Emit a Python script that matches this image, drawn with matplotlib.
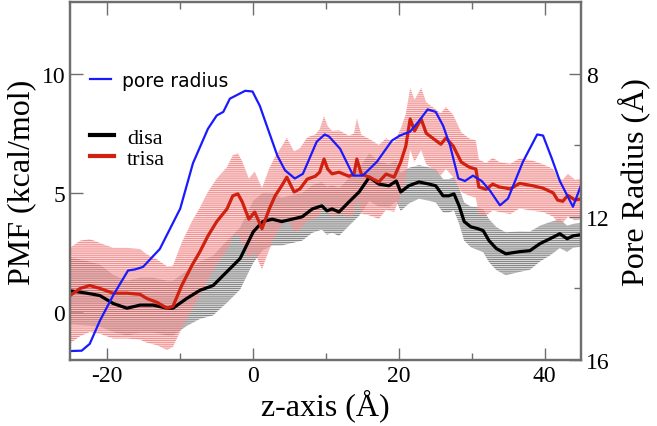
import matplotlib
matplotlib.use("Agg")
import matplotlib.pyplot as plt
from matplotlib import font_manager as fm
import numpy as np

# ---------------- data ----------------
pore_z = [-25, -23.4, -22.3, -20.9, -19.1, -17.05, -16.1, -15.0, -12.7, -9.9, -8.15,
          -6.1, -4.9, -4.0, -3.1, -1.0, 0, 1.0, 2.1, 3.4, 4.45, 5.8, 6.9, 8.8, 9.9,
          10.5, 12.0, 13.8, 15.1, 17.05, 19.1, 20.2, 21.6, 22.7, 24.0, 25.1, 26.1,
          27.05, 28.2, 29.1, 30.2, 31.4, 32.5, 33.9, 35.0, 37.05, 39.0, 39.8, 41.0,
          42.1, 43.9, 45.0]
pore_r = [15.75, 15.74, 15.55, 14.9, 14.2, 13.5, 13.47, 13.4, 12.9, 11.77, 10.5,
          9.54, 9.17, 9.07, 8.70, 8.48, 8.5, 8.9, 9.54, 10.29, 10.7, 10.93, 10.8, 9.9, 9.7,
          9.76, 10.1, 10.85, 10.85, 10.46, 9.87, 9.73, 9.62, 9.35, 9.0, 9.07, 9.45,
          10.0, 10.93, 11.0, 10.85, 11.0, 11.26, 11.68, 11.49, 10.46, 9.7, 9.73, 10.37,
          11.0, 11.72, 11.12]

disa_z = [-25, -22.7, -20.9, -19.1, -17.2, -15.4, -13.6, -11.7, -10.9, -9.0, -7.2,
          -5.4, -3.5, -1.7, 0.1, 1.4, 2.7, 4.0, 5.4, 6.8, 8.2, 9.5, 10.2, 10.9, 11.85,
          13.2, 14.6, 16.0, 17.3, 18.7, 19.7, 20.3, 21.4, 22.8, 24.2, 25.1, 26.1, 26.9,
          27.6, 28.3, 29.0, 29.9, 30.9, 31.6, 32.4, 33.4, 34.7, 36.6, 38.0, 39.4, 40.75,
          42.1, 43.1, 43.9, 45.0]
disa_pmf = [0.9, 0.8, 0.7, 0.37, 0.17, 0.3, 0.3, 0.17, 0.17, 0.58, 0.92,
            1.12, 1.7, 2.25, 3.37, 3.8, 3.9, 3.8, 3.9, 4.0, 4.33, 4.46, 4.25, 4.33, 4.2,
            4.62, 5.04, 5.66, 5.37, 5.3, 5.5, 5.04, 5.3, 5.46, 5.37, 5.3, 4.88, 4.88,
            4.96, 4.46, 3.8, 3.58, 3.5, 3.42, 3.0, 2.67, 2.45, 2.54, 2.58, 2.88, 3.08,
            3.29, 3.08, 3.2, 3.25]
disa_err = [1.4, 1.35, 1.3, 1.2, 1.15, 1.15, 1.15, 1.15, 1.15,
            1.15, 1.2, 1.25, 1.3, 1.3,
            1.3, 1.2, 1.1, 1.0, 1.0, 1.0, 1.0, 1.0, 1.0, 1.0,
            1.0, 1.0, 1.0, 1.0, 0.95, 0.9, 0.85, 0.8, 0.75, 0.7,
            0.7, 0.7, 0.7, 0.7, 0.7, 0.75, 0.8, 0.85, 0.9, 0.9, 0.9, 0.9, 0.9,
            0.85, 0.8, 0.75, 0.7, 0.6, 0.55, 0.5, 0.5]

trisa_z = [-25, -23.6, -22.3, -20.9, -19.1, -17.2, -15.4, -14.5, -13.1, -11.7, -10.9,
           -9.7, -8.3, -7.2, -6.1, -4.9, -3.5, -2.7, -2.0, -1.4, -0.5, 0.3, 1.3, 2.3,
           3.1, 4.0, 4.7, 5.7, 6.5, 7.5, 8.6, 9.2, 9.8, 10.3, 10.9, 11.85, 13.2, 13.9,
           14.3, 14.9, 16.0, 17.3, 18.3, 19.4, 20.3, 21.0, 21.6, 22.2, 23.1, 23.8, 25.1,
           25.8, 26.5, 27.5, 28.6, 29.7, 30.6, 31.0, 32.0, 32.9, 33.8, 35.3, 36.6, 38.4,
           39.8, 41.2, 41.8, 42.5, 43.2, 44.2, 45.0]
trisa_pmf = [0.7, 1.0, 1.12, 1.0, 0.8, 0.8, 0.75, 0.58, 0.42, 0.17, 0.25,
             1.12, 1.96, 2.54, 3.2, 3.8, 4.33, 4.88, 4.96, 4.62, 3.9, 4.2, 3.5, 4.33,
             4.88, 5.3, 5.66, 5.04, 5.17, 5.58, 5.7, 5.87, 6.42, 6.0, 5.8, 5.87, 5.7, 5.79,
             6.42, 5.79, 5.66, 5.46, 5.79, 5.66, 6.29, 6.96, 8.1, 7.6, 8.1, 7.5, 7.2,
             7.04, 7.3, 6.96, 6.29, 6.08, 6.0, 5.25, 5.15, 5.37, 5.25, 5.17, 5.4, 5.3,
             5.2, 5.0, 4.7, 4.65, 4.9, 4.7, 4.75]
trisa_err = [2.0, 2.0, 1.95, 1.9, 1.9, 1.9, 1.9, 1.85, 1.8, 1.75, 1.7,
             1.8, 1.85, 1.85, 1.85, 1.8, 1.75, 1.7, 1.7, 1.7, 1.7,
             1.7, 1.7, 1.7, 1.65, 1.65, 1.65, 1.7, 1.7, 1.75, 1.75, 1.8, 1.8, 1.8, 1.8,
             1.75, 1.7, 1.7, 1.7, 1.65, 1.6, 1.55, 1.5, 1.45, 1.4,
             1.35, 1.3, 1.3, 1.3, 1.3, 1.3, 1.3, 1.3, 1.3, 1.25, 1.2, 1.2,
             1.15, 1.1, 1.1, 1.05, 1.05, 1.05, 1.05, 1.0, 1.0, 0.95, 0.9, 0.9, 0.85, 0.85]

x_major = [-20, 0, 20, 40]
x_minor = [-10, 10, 30]
pmf_ticks = [0, 5, 10]
r_major = [8, 12, 16]
r_minor = [10, 14]

# ---------------- figure ----------------
SERIF = "Liberation Serif"
SPINE = "#6e6e6e"
plt.rcParams["font.family"] = [SERIF, "DejaVu Serif"]
plt.rcParams["axes.unicode_minus"] = False
plt.rcParams["hatch.linewidth"] = 0.5

serif_path = fm.findfont(fm.FontProperties(family=SERIF))
def serif_fp(size):
    return fm.FontProperties(fname=serif_path, size=size)

fig = plt.figure(figsize=(6.57, 4.27), dpi=100)
ax = fig.add_axes([70 / 657, 66 / 427, 511 / 657, 358 / 427])
ax2 = ax.twinx()

def arr(a):
    return np.asarray(a, dtype=float)

dz, dp, de = arr(disa_z), arr(disa_pmf), arr(disa_err)
tz, tp, te = arr(trisa_z), arr(trisa_pmf), arr(trisa_err)

ax.fill_between(dz, dp - de, dp + de, facecolor=(0.80, 0.80, 0.80, 0.75),
                edgecolor=(0.1, 0.1, 0.1, 0.6), hatch="--------", linewidth=0, zorder=1)
ax.fill_between(tz, tp - te, tp + te, facecolor=(0.98, 0.74, 0.74, 0.58),
                edgecolor=(0.88, 0.2, 0.2, 0.6), hatch="--------", linewidth=0, zorder=2)
l_disa, = ax.plot(dz, dp, color="black", lw=2.3, zorder=3, label="disa")
l_trisa, = ax.plot(tz, tp, color="#d02010", lw=2.3, zorder=4, label="trisa")

l_pore, = ax2.plot(pore_z, pore_r, color="#1a1aff", lw=1.6, label="pore radius")

ax.set_xlim(-25, 45)
ax.set_ylim(-2, 13)
ax2.set_ylim(16, 6)

ax.set_xticks(x_major)
ax.set_xticks(x_minor, minor=True)
ax.set_yticks(pmf_ticks)
ax2.set_yticks(r_major)
ax2.set_yticks(r_minor, minor=True)
ax.set_xticklabels([str(v) for v in x_major], fontproperties=serif_fp(17))
ax.set_yticklabels([str(v) for v in pmf_ticks], fontproperties=serif_fp(17))
ax2.set_yticklabels([str(v) for v in r_major], fontproperties=serif_fp(17))

ax.tick_params(axis="x", which="both", direction="in", top=True, color=SPINE, width=1.0)
ax.tick_params(axis="x", which="major", length=9)
ax.tick_params(axis="x", which="minor", length=5)
ax.tick_params(axis="y", which="both", direction="in", length=9, color=SPINE, width=1.0)
ax2.tick_params(axis="y", which="major", direction="in", length=9, color=SPINE, width=1.0)
ax2.tick_params(axis="y", which="minor", direction="in", length=5, color=SPINE, width=1.0)

for a in (ax, ax2):
    for s in a.spines.values():
        s.set_color(SPINE)
        s.set_linewidth(1.6)

ax.set_xlabel("z-axis (Å)", fontproperties=serif_fp(23), labelpad=2)
ax.set_ylabel("PMF (kcal/mol)", fontproperties=serif_fp(23), labelpad=4)
ax2.set_ylabel("Pore Radius (Å)", fontproperties=serif_fp(23), labelpad=6)

leg1 = ax2.legend(handles=[l_pore], loc="center left", bbox_to_anchor=(0.04, 0.782),
                  frameon=False, borderpad=0, borderaxespad=0, handlelength=1.1,
                  handletextpad=0.6, prop={"family": "DejaVu Sans", "size": 13.5})
ax2.add_artist(leg1)
leg2 = ax2.legend(handles=[l_disa, l_trisa], loc="center left",
                  bbox_to_anchor=(0.04, 0.592), frameon=False, borderpad=0,
                  borderaxespad=0, handlelength=1.05, handletextpad=0.6,
                  labelspacing=0.0, prop=serif_fp(16))
for h in leg2.get_lines():
    h.set_linewidth(3.0)

fig.savefig("out.png", dpi=100)
